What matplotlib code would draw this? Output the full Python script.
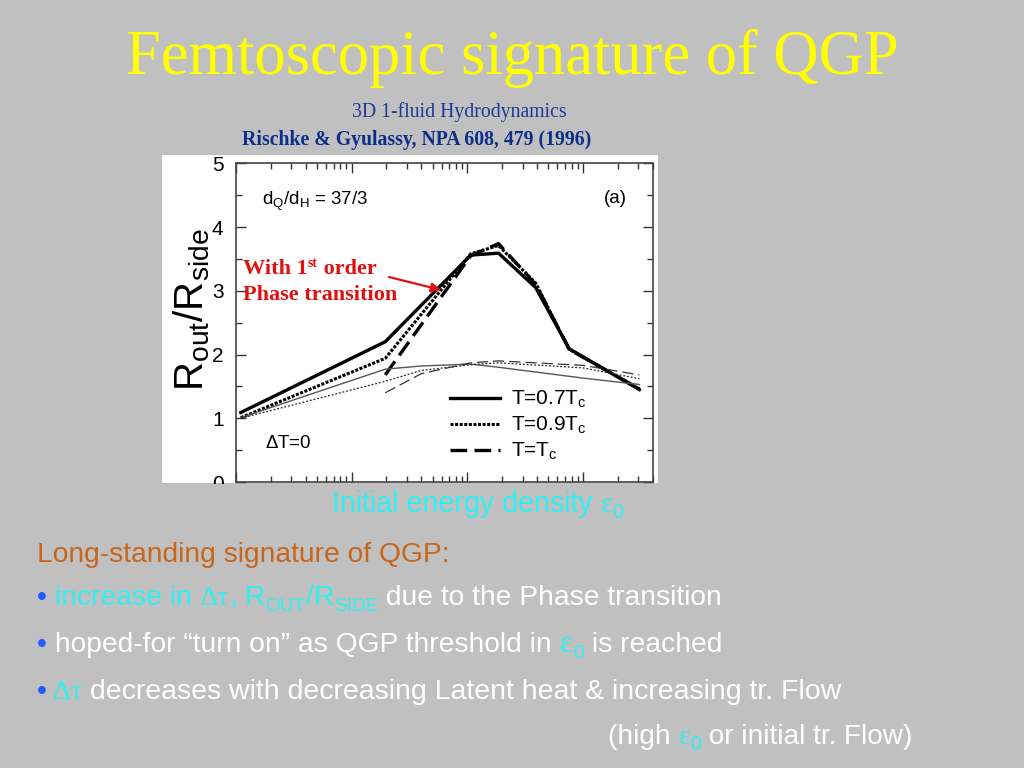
"""
plot.py

Slide: femtoscopic signature of QGP, R_out/R_side vs initial energy density
(3D 1-fluid hydro, Rischke & Gyulassy).
"""

import matplotlib
matplotlib.use('Agg')
import matplotlib.pyplot as plt
from matplotlib.patches import Rectangle
from matplotlib.transforms import IdentityTransform

plt.rcParams['mathtext.fontset'] = 'custom'
plt.rcParams['mathtext.rm'] = 'Liberation Sans'
plt.rcParams['mathtext.it'] = 'Liberation Sans:italic'
plt.rcParams['mathtext.bf'] = 'Liberation Sans:bold'
plt.rcParams['font.family'] = ['Liberation Sans', 'DejaVu Sans']

# thick curves: with 1st order phase transition
eps_07 = [0.11, 1.95, 10.7, 18.6, 39, 76, 307]
r_07 = [1.09, 2.20, 3.56, 3.59, 3.05, 2.09, 1.45]
eps_09 = [0.11, 1.95, 10.7, 18.6, 39, 76, 307]
r_09 = [1.01, 1.94, 3.58, 3.71, 3.12, 2.08, 1.46]
eps_10 = [1.95, 10.7, 18.6, 39, 76, 307]
r_10 = [1.68, 3.55, 3.74, 3.10, 2.08, 1.46]

# thin curves
eps_07t = [0.11, 1.95, 4.0, 10.7, 18.6, 100, 307]
r_07t = [1.01, 1.77, 1.82, 1.85, 1.80, 1.63, 1.53]
eps_09t = [0.11, 1.95, 4.0, 10.7, 18.6, 100, 307]
r_09t = [1.00, 1.58, 1.75, 1.84, 1.87, 1.79, 1.62]
eps_10t = [1.95, 4.0, 10.7, 18.6, 100, 307]
r_10t = [1.40, 1.70, 1.87, 1.90, 1.83, 1.68]

labels = ['T=0.7T$_\\mathrm{c}$', 'T=0.9T$_\\mathrm{c}$', 'T=T$_\\mathrm{c}$']

W, H = 1024, 768
BG = '#c0c0c0'
CYAN = '#2ff0f2'
WHITE = 'white'
BLUE = '#1f5bff'

fig = plt.figure(figsize=(W / 100, H / 100), dpi=100, facecolor=BG)
ident = IdentityTransform()


def fx(px):
    return px / W


def fy(py):
    return 1 - py / H


# white box behind the plot
fig.patches.append(Rectangle((fx(162), fy(483)), fx(658) - fx(162), fy(155) - fy(483),
                             transform=fig.transFigure, facecolor='white',
                             edgecolor='none', zorder=-1))

ax = fig.add_axes([fx(236), fy(482), (653.3 - 236) / W, (482 - 163.3) / H])
ax.set_facecolor('white')

l07, = ax.plot(eps_07, r_07, color='k', lw=2.4, ls='-', label=labels[0])
l09, = ax.plot(eps_09, r_09, color='k', lw=2.2, ls=(0, (1, 0.5)), label=labels[1])
l10, = ax.plot(eps_10, r_10, color='k', lw=2.4, ls=(0, (5, 2.2)), label=labels[2])
ax.plot(eps_07t, r_07t, color='#555555', lw=1.0, ls='-')
ax.plot(eps_09t, r_09t, color='#222222', lw=0.9, ls=(0, (1.5, 1.5)))
ax.plot(eps_10t, r_10t, color='#333333', lw=0.9, ls=(0, (9, 4)))

ax.set_xscale('log')
ax.set_xlim(0.1, 405)
ax.set_ylim(0, 5)
ax.set_yticks([0, 1, 2, 3, 4, 5])
ax.set_yticks([0.5, 1.5, 2.5, 3.5, 4.5], minor=True)
ax.tick_params(which='both', direction='in', top=True, right=True,
               labelbottom=False, width=1.0, color='#333333')
ax.tick_params(which='major', length=7, labelsize=15, pad=9)
ax.tick_params(which='minor', length=4.5)
for s in ax.spines.values():
    s.set_color('#444444')
    s.set_linewidth(1.2)

ax.set_ylabel('$\\mathrm{R_{out}/R_{side}}$', fontsize=29)
ax.yaxis.set_label_coords(-0.058, 0.54)

ax.text(0.062, 0.88, 'd$_\\mathrm{Q}$/d$_\\mathrm{H}$ = 37/3', transform=ax.transAxes,
        fontsize=13.5, va='center')
ax.text(0.908, 0.89, '(a)', transform=ax.transAxes, fontsize=13.5, va='center', ha='center')
ax.text(0.07, 0.12, '$\\Delta$T=0', transform=ax.transAxes, fontsize=13.5, va='center')

ax.legend(handles=[l07, l09, l10], loc='upper left', frameon=False,
          bbox_to_anchor=((450 - 236) / 417.3, (482 - 389) / 318.7),
          borderpad=0, borderaxespad=0, fontsize=15, handlelength=2.4,
          handletextpad=0.55, labelspacing=0.23)

# red annotation
ax.annotate('', xy=(441, H - 290), xytext=(389, H - 277), xycoords='figure pixels',
            textcoords='figure pixels',
            arrowprops=dict(arrowstyle='-|>', color='#e01010', lw=1.6,
                            mutation_scale=14, shrinkA=0, shrinkB=0))

# hide the cut-off lower half of the "0" tick label
fig.patches.append(Rectangle((fx(195), 0), fx(234) - fx(195), fy(483.5),
                             transform=fig.transFigure, facecolor=BG,
                             edgecolor='none', zorder=5))

renderer = fig.canvas.get_renderer()


def put(x, y, pieces, size, family='Liberation Sans', weight='normal'):
    # lay text pieces side by side, starting at pixel x, baseline pixel y (from top)
    for p in pieces:
        s, c = p[0], p[1]
        o = p[2] if len(p) > 2 else {}
        t = fig.text(x, H - y + o.get('dy', 0), s, color=c,
                     fontsize=size * o.get('scale', 1),
                     family=o.get('family', family), weight=o.get('weight', weight),
                     transform=ident, va='baseline', ha='left', zorder=10)
        x += t.get_window_extent(renderer).width + o.get('gap', 0)
    return x


serif = 'Liberation Serif'
sub = {'scale': 0.68, 'dy': -6}

fig.text(0.5, fy(74), 'Femtoscopic signature of QGP', color='#ffff00', fontsize=45,
         family=serif, ha='center', va='baseline')
fig.text(fx(459), fy(116.5), '3D 1-fluid Hydrodynamics', color='#1a3a94', fontsize=14.2,
         family=serif, ha='center', va='baseline')
fig.text(fx(417), fy(144.5), 'Rischke & Gyulassy, NPA 608, 479 (1996)', color='#0c2f8c',
         fontsize=14.2, family=serif, weight='bold', ha='center', va='baseline')

red = '#e01010'
put(243, 274, [('With 1', red), ('st', red, {'scale': 0.62, 'dy': 7}), (' order', red)],
    16, family=serif, weight='bold')
put(243, 300.5, [('Phase transition', red)], 16, family=serif, weight='bold')

put(332, 512, [('Initial energy density ', CYAN), ('\u03b5', CYAN, {'family': serif}),
               ('0', CYAN, {'scale': 0.7, 'dy': -6})], 20.6)

put(37, 561.5, [('Long-standing signature of QGP:', '#c8661c')], 20.3)

put(37, 605, [('\u2022', BLUE), (' increase in ', CYAN),
              ('\u0394\u03c4', CYAN, {'family': serif}), (',', CYAN),
              (' R', CYAN), ('OUT', CYAN, sub), ('/R', CYAN), ('SIDE', CYAN, sub),
              (' due to the Phase transition', WHITE)], 20.3)
put(37, 652, [('\u2022', BLUE), (' hoped-for \u201cturn on\u201d as QGP threshold in ', WHITE),
              ('\u03b5', CYAN, {'family': serif, 'scale': 1.15}), ('0', CYAN, sub),
              (' is reached', WHITE)], 20.3)
put(37, 699, [('\u2022', BLUE), (' \u0394\u03c4', CYAN, {'family': serif}),
              (' decreases with decreasing Latent heat & increasing tr. Flow', WHITE)],
    20.5)
put(608, 744, [('(high ', WHITE), ('\u03b5', CYAN, {'family': serif}),
               ('0', CYAN, {'scale': 0.7, 'dy': -6}),
               (' or initial tr. Flow)', WHITE)], 20.2)

fig.savefig('out.png', dpi=100, facecolor=BG)
